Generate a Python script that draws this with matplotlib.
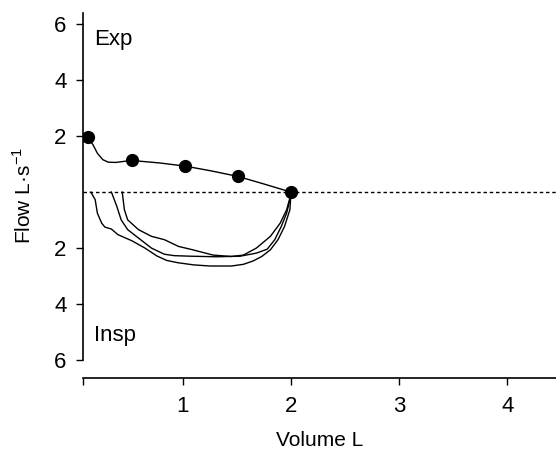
import matplotlib
matplotlib.use('Agg')
import matplotlib.pyplot as plt

# expiratory limb with the marked points
exp_vol = [0.12, 0.17, 0.21, 0.26, 0.31, 0.38, 0.46, 0.53, 0.79, 1.02, 1.26, 1.51, 1.75, 2.00]
exp_flow = [1.97, 1.69, 1.39, 1.16, 1.07, 1.06, 1.10, 1.13, 1.04, 0.93, 0.76, 0.56, 0.29, 0.00]
dot_vol = [0.12, 0.53, 1.02, 1.51, 2.00]
dot_flow = [1.97, 1.13, 0.93, 0.56, 0.00]

# three inspiratory limbs
insp1_vol = [0.15, 0.19, 0.21, 0.25, 0.28, 0.34, 0.40, 0.53, 0.65, 0.76, 0.85, 0.95,
             1.10, 1.25, 1.45, 1.56, 1.65, 1.73, 1.81, 1.88, 1.94, 1.99, 2.00]
insp1_flow = [0.00, -0.27, -0.75, -1.11, -1.25, -1.32, -1.52, -1.74, -2.00, -2.28, -2.44,
              -2.52, -2.60, -2.64, -2.64, -2.58, -2.46, -2.30, -2.06, -1.70, -1.23, -0.63,
              0.00]
insp2_vol = [0.34, 0.39, 0.43, 0.49, 0.59, 0.71, 0.83, 0.92, 1.07, 1.31, 1.53, 1.68,
             1.78, 1.85, 1.91, 1.96, 1.99, 2.00]
insp2_flow = [0.00, -0.51, -0.99, -1.34, -1.64, -2.00, -2.22, -2.27, -2.29, -2.31, -2.29,
              -2.18, -2.04, -1.70, -1.23, -0.75, -0.27, 0.00]
insp3_vol = [0.44, 0.46, 0.49, 0.59, 0.71, 0.83, 0.96, 1.08, 1.28, 1.45, 1.56, 1.68,
             1.81, 1.90, 1.96, 1.99, 2.00]
insp3_flow = [0.00, -0.63, -0.99, -1.34, -1.58, -1.70, -1.94, -2.05, -2.25, -2.30, -2.25,
              -2.00, -1.58, -1.11, -0.63, -0.21, 0.00]

y_ticks = [6, 4, 2, -2, -4, -6]
y_labels = ['6', '4', '2', '2', '4', '6']
x_ticks = [0.08, 1, 2, 3, 4]
x_labels = ['', '1', '2', '3', '4']

plt.rcParams['font.family'] = ['Liberation Sans', 'DejaVu Sans']

fig = plt.figure(figsize=(5.56, 4.5), dpi=100)
ax = fig.add_axes([0.1498, 0.1607, 0.8502, 0.8111])

ax.axhline(0, color='black', lw=1, ls=(0, (2.5, 2)), zorder=1)
ax.plot(exp_vol, exp_flow, color='black', lw=1)
for v, f in [(insp1_vol, insp1_flow), (insp2_vol, insp2_flow), (insp3_vol, insp3_flow)]:
    ax.plot(v, f, color='black', lw=1)
ax.plot(dot_vol, dot_flow, 'o', color='black', ms=8.5, zorder=5)

ax.set_xlim(0.08, 4.45)
ax.set_ylim(-6.63, 6.41)
ax.spines['top'].set_visible(False)
ax.spines['right'].set_visible(False)
ax.spines['left'].set_bounds(-6, 6.41)
ax.spines['left'].set_linewidth(1.2)
ax.spines['bottom'].set_linewidth(1.2)

ax.set_yticks(y_ticks)
ax.set_yticklabels(y_labels)
ax.set_xticks(x_ticks)
ax.set_xticklabels(x_labels)
ax.tick_params(axis='both', labelsize=16, length=5, width=1)
ax.tick_params(axis='y', pad=7)
ax.tick_params(axis='x', pad=8)

ax.set_ylabel('Flow L·s$^{\\mathregular{-1}}$', fontsize=15, labelpad=14)
ax.set_xlabel('Volume L', fontsize=15, labelpad=10)

ax.text(0.18, 5.27, 'Exp', fontsize=16, va='baseline', ha='left')
ax.text(0.18, -5.33, 'Insp', fontsize=16, va='baseline', ha='left')

fig.savefig('out.png', dpi=100)
